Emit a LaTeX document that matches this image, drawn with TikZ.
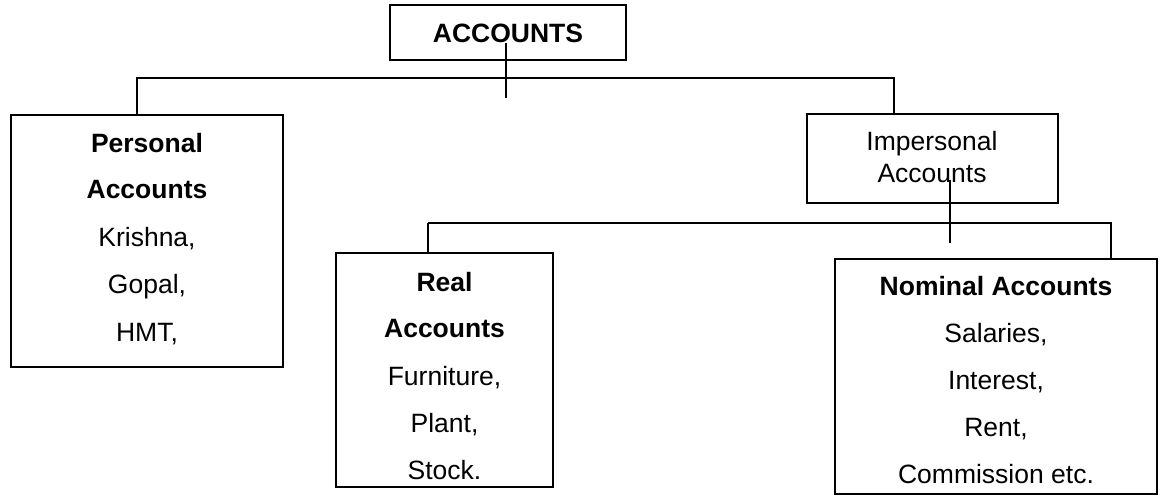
\documentclass[tikz,border=0pt]{standalone}
\usepackage{fontspec}
\setmainfont{Liberation Sans}
\begin{document}
\begin{tikzpicture}[x=1pt,y=-1pt,
  box/.style={draw, line width=1.6pt, inner sep=0pt},
  txt/.style={anchor=base, inner sep=0pt, font=\fontsize{26.5}{30}\selectfont},
  btxt/.style={anchor=base, inner sep=0pt, font=\fontsize{26.5}{30}\selectfont\bfseries},
  conn/.style={line width=1.6pt}]
\useasboundingbox (0,0) rectangle (1160,496);
% boxes
\node[box, minimum width=236pt, minimum height=55pt] (accounts) at (508,32.5) {};
\node[box, minimum width=272pt, minimum height=252pt] (personal) at (147,241) {};
\node[box, minimum width=251pt, minimum height=89pt] (impersonal) at (932.5,158.5) {};
\node[box, minimum width=217pt, minimum height=234pt] (real) at (444.5,370) {};
\node[box, minimum width=322pt, minimum height=235pt] (nominal) at (996,376.5) {};
% texts
\node[btxt] (tacc) at (508,42) {ACCOUNTS};
\node[btxt] (tp1) at (147,152) {Personal};
\node[btxt] (tp2) at (147,198) {Accounts};
\node[txt] (tp3) at (147,246) {Krishna,};
\node[txt] (tp4) at (147,293) {Gopal,};
\node[txt] (tp5) at (147,341) {HMT,};
\node[txt] (ti1) at (932,150) {Impersonal};
\node[txt] (ti2) at (932,182) {Accounts};
\node[btxt] (tr1) at (444.5,291) {Real};
\node[btxt] (tr2) at (444.5,337) {Accounts};
\node[txt] (tr3) at (444.5,385) {Furniture,};
\node[txt] (tr4) at (444.5,432) {Plant,};
\node[txt] (tr5) at (444.5,479) {Stock.};
\node[btxt] (tn1) at (996,295) {Nominal Accounts};
\node[txt] (tn2) at (996,342) {Salaries,};
\node[txt] (tn3) at (996,389) {Interest,};
\node[txt] (tn4) at (996,436) {Rent,};
\node[txt] (tn5) at (996,483) {Commission etc.};
% connector coordinates
\coordinate (t1) at (506,43);
\coordinate (b1) at (506,98);
\coordinate (hL) at (136,78);
\coordinate (hR) at (895,78);
\coordinate (c1) at (137,78);
\coordinate (c2) at (894,78);
\coordinate (t2) at (950,180);
\coordinate (b2) at (950,243);
\coordinate (hL2) at (428,223);
\coordinate (hR2) at (1112,223);
\coordinate (c3) at (1111,223);
% connectors
\draw[conn] (t1) -- (b1);
\draw[conn] (hL) -- (hR);
\draw[conn] (c1) -- (c1 |- personal.north);
\draw[conn] (c2) -- (c2 |- impersonal.north);
\draw[conn] (t2) -- (b2);
\draw[conn] (hL2) -- (hR2);
\draw[conn] (hL2) -- (hL2 |- real.north);
\draw[conn] (c3) -- (c3 |- nominal.north);
\end{tikzpicture}
\end{document}
